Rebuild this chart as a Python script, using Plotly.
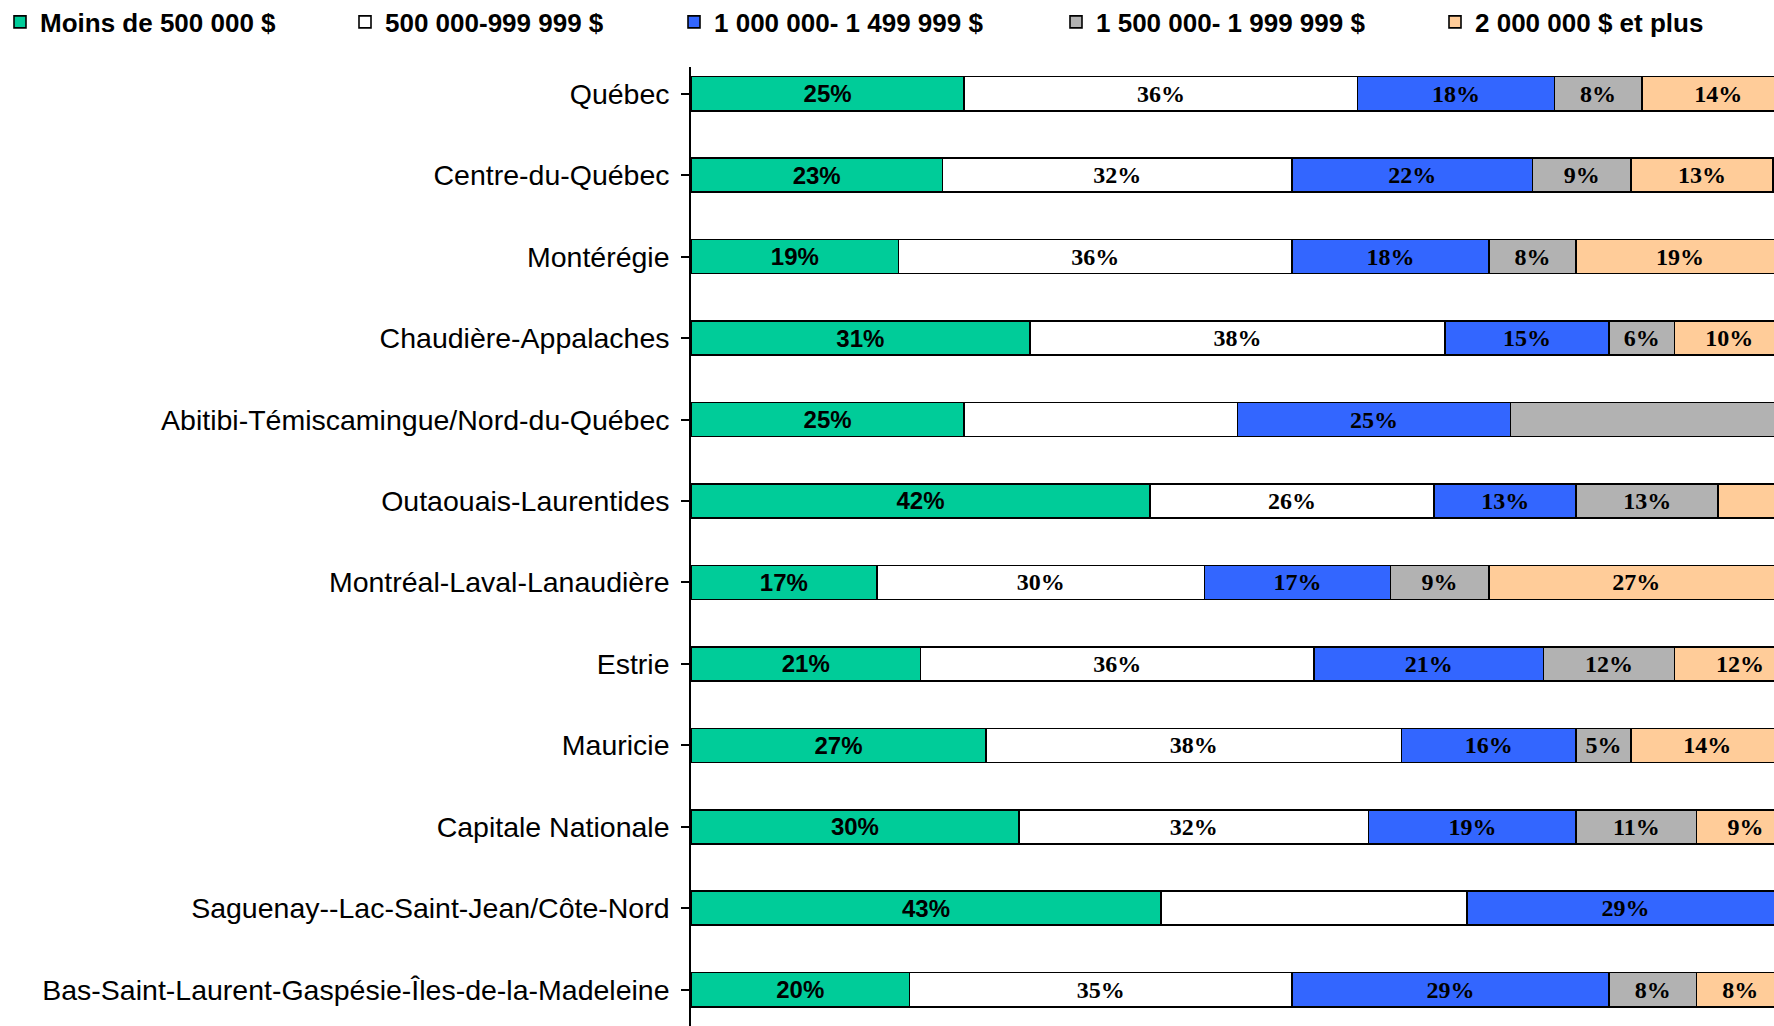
import plotly.graph_objects as go

regions = [
    "Québec",
    "Centre-du-Québec",
    "Montérégie",
    "Chaudière-Appalaches",
    "Abitibi-Témiscamingue/Nord-du-Québec",
    "Outaouais-Laurentides",
    "Montréal-Laval-Lanaudière",
    "Estrie",
    "Mauricie",
    "Capitale Nationale",
    "Saguenay--Lac-Saint-Jean/Côte-Nord",
    "Bas-Saint-Laurent-Gaspésie-Îles-de-la-Madeleine",
]

series_names = [
    "Moins de 500 000 $",
    "500 000-999 999 $",
    "1 000 000- 1 499 999 $",
    "1 500 000- 1 999 999 $",
    "2 000 000 $ et plus",
]

moins_500k = [25, 23, 19, 31, 25, 42, 17, 21, 27, 30, 43, 20]
de_500k_999k = [36, 32, 36, 38, 25, 26, 30, 36, 38, 32, 28, 35]
de_1m_1_5m = [18, 22, 18, 15, 25, 13, 17, 21, 16, 19, 29, 29]
de_1_5m_2m = [8, 9, 8, 6, 25, 13, 9, 12, 5, 11, 0, 8]
plus_2m = [14, 13, 19, 10, 0, 6, 27, 12, 14, 9, 0, 8]

# labels shown on the bars ("" = no label in the original)
labels_moins_500k = ["25%", "23%", "19%", "31%", "25%", "42%", "17%", "21%", "27%", "30%", "43%", "20%"]
labels_500k_999k = ["36%", "32%", "36%", "38%", "", "26%", "30%", "36%", "38%", "32%", "", "35%"]
labels_1m_1_5m = ["18%", "22%", "18%", "15%", "25%", "13%", "17%", "21%", "16%", "19%", "29%", "29%"]
labels_1_5m_2m = ["8%", "9%", "8%", "6%", "", "13%", "9%", "12%", "5%", "11%", "", "8%"]
labels_plus_2m = ["14%", "13%", "19%", "10%", "", "", "27%", "12%", "14%", "9%", "", "8%"]

values = [moins_500k, de_500k_999k, de_1m_1_5m, de_1_5m_2m, plus_2m]
labels = [labels_moins_500k, labels_500k_999k, labels_1m_1_5m, labels_1_5m_2m, labels_plus_2m]
colors = ["#00CC99", "#FFFFFF", "#3366FF", "#B2B2B2", "#FFCC99"]
label_fonts = ["Liberation Sans", "Liberation Serif", "Liberation Serif", "Liberation Serif", "Liberation Serif"]
legend_left_px = [-4, 345, 674, 1056, 1435]

W, H = 1774, 1026
fig = go.Figure()
for i in range(5):
    lg = "legend" if i == 0 else f"legend{i+1}"
    fig.add_trace(go.Bar(
        y=list(range(len(regions))),
        x=values[i],
        orientation="h",
        name=series_names[i],
        marker=dict(color=colors[i], line=dict(color="#000000", width=1.6)),
        text=labels[i],
        textposition="inside",
        insidetextanchor="middle",
        textangle=0,
        textfont=dict(family=label_fonts[i], size=24, color="#000000", weight="bold"),
        legend=lg,
        hoverinfo="skip",
    ))

layout_legends = {}
for i in range(5):
    key = "legend" if i == 0 else f"legend{i+1}"
    layout_legends[key] = dict(
        xref="container", yref="container",
        x=legend_left_px[i] / W, y=1 - 22 / H,
        xanchor="left", yanchor="middle",
        orientation="h",
        font=dict(family="Liberation Sans", size=26, color="#000000", weight="bold"),
        bgcolor="rgba(0,0,0,0)",
        itemwidth=30,
        tracegroupgap=0,
    )

fig.update_layout(
    width=W, height=H,
    barmode="stack",
    bargap=0.582,
    plot_bgcolor="#FFFFFF",
    paper_bgcolor="#FFFFFF",
    margin=dict(l=691, r=0, t=67, b=0, pad=0),
    uniformtext=dict(minsize=24, mode="show"),
    showlegend=True,
    **layout_legends,
)

fig.update_xaxes(
    range=[0, 99.1],
    visible=False,
    showgrid=False,
    zeroline=False,
)
fig.update_yaxes(
    tickmode="array",
    tickvals=list(range(len(regions))),
    ticktext=regions,
    range=[11.446, -0.328],
    showline=True, linecolor="#000000", linewidth=1.5,
    ticks="outside", ticklen=8, tickcolor="#000000", tickwidth=1.5,
    tickson="boundaries",
    ticklabelstandoff=6,
    showgrid=False, zeroline=False,
    tickfont=dict(family="Liberation Sans", size=28.5, color="#000000"),
)

fig.write_html(
    "out.html",
    config={"displayModeBar": False},
    post_script="document.body.style.margin='0';document.body.style.overflow='hidden';",
)
